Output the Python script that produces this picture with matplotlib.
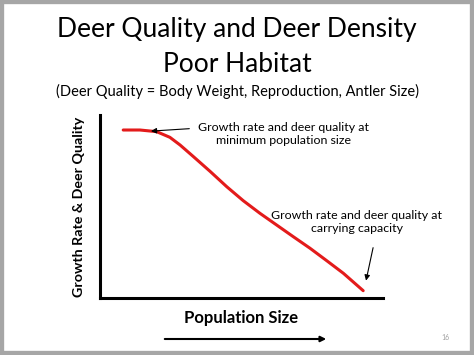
import matplotlib.pyplot as plt
from matplotlib.patches import Rectangle, FancyArrowPatch

# population size (x) vs growth rate & deer quality (y)
pop_size = [0.82, 1.41, 2.00, 2.47, 2.83, 3.29, 3.89, 4.48, 5.06, 5.65,
            6.24, 6.83, 7.42, 8.01, 8.60, 9.30]
quality = [9.18, 9.18, 9.09, 8.78, 8.36, 7.74, 6.92, 6.08, 5.32, 4.63,
           3.99, 3.35, 2.72, 2.04, 1.35, 0.40]

title_lines = ["Deer Quality and Deer Density", "Poor Habitat"]
subtitle = "(Deer Quality = Body Weight, Reproduction, Antler Size)"
note_min = "Growth rate and deer quality at\nminimum population size"
note_cap = "Growth rate and deer quality at\ncarrying capacity"

plt.rcParams['font.family'] = ['Lato', 'DejaVu Sans']

W, H = 474, 355
fig = plt.figure(figsize=(W / 100, H / 100), dpi=100)

# slide frame
fig.patches.append(Rectangle((0, 0), 1, 1, transform=fig.transFigure,
                             fill=False, edgecolor='#a6a6a6', linewidth=6))

def fx(px):
    return px / W

def fy(py):
    return 1 - py / H

fig.text(fx(237), fy(30), title_lines[0], ha='center', va='center', fontsize=19)
fig.text(fx(237), fy(65), title_lines[1], ha='center', va='center', fontsize=19)
fig.text(fx(237), fy(91), subtitle, ha='center', va='center', fontsize=10.5)

ax = fig.add_axes([fx(100), fy(298), (383 - 100) / W, (298 - 115) / H])
ax.plot(pop_size, quality, color='#e31b1b', linewidth=2.2, solid_capstyle='round')
ax.set_xlim(0, 10)
ax.set_ylim(0, 10)
for s in ['top', 'right']:
    ax.spines[s].set_visible(False)
for s in ['left', 'bottom']:
    ax.spines[s].set_linewidth(2.2)
ax.set_xticks([])
ax.set_yticks([])

ax.set_ylabel("Growth Rate & Deer Quality", fontsize=10.3, fontweight='bold', labelpad=11)
ax.set_xlabel("Population Size", fontsize=12, fontweight='bold', labelpad=9)

ax.annotate(note_min, xy=(1.8, 9.12), xytext=(3.45, 8.95), ha='left', va='center',
            fontsize=8.9, multialignment='center', linespacing=1.25,
            arrowprops=dict(arrowstyle='-|>', color='black', lw=0.8,
                            shrinkA=4, shrinkB=0, mutation_scale=8,
                            relpos=(0, 0.75)))
ax.text(9.08, 4.15, note_cap, ha='center', va='center', fontsize=8.9,
        multialignment='center', linespacing=1.25, clip_on=False)
ax.annotate('', xy=(9.4, 0.95), xytext=(9.65, 2.75), annotation_clip=False,
            arrowprops=dict(arrowstyle='-|>', color='black', lw=0.8,
                            shrinkA=0, shrinkB=0, mutation_scale=8))

# direction arrow under the x label
fig.add_artist(FancyArrowPatch(
    (fx(162), fy(339)), (fx(329), fy(339)), transform=fig.transFigure,
    arrowstyle='-|>', mutation_scale=8, color='black', lw=1.5))

fig.text(fx(445), fy(338), "16", ha='center', va='center', fontsize=5, color='#a0a0a0')

fig.savefig('out.png', dpi=100)
